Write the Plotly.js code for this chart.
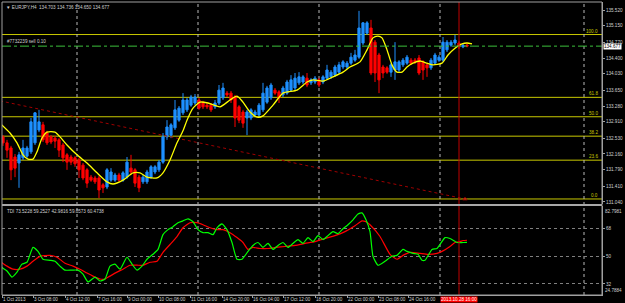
<!DOCTYPE html>
<html><head><meta charset="utf-8">
<script src="https://cdn.plot.ly/plotly-3.0.1.min.js"></script>
<style>html,body{margin:0;padding:0;background:#000;}#chart{width:625px;height:303px;}</style>
</head><body><div id="chart"></div>
<script>
// ---- EURJPY H4 candles (bar index = position) ----
const openP=[132.56,132.42,132.30,132.09,131.95,132.07,132.11,132.21,132.42,132.72,
132.84,132.65,132.56,132.53,132.49,132.37,132.14,132.09,132.07,132.02,
131.90,131.79,131.62,131.60,131.60,131.44,131.39,131.55,131.55,131.67,
131.55,131.62,131.83,131.79,131.62,131.51,131.51,131.62,131.74,131.79,
131.97,132.56,132.60,132.77,132.95,133.12,133.19,133.30,133.35,133.42,
133.35,133.30,133.30,133.26,133.35,133.47,133.58,133.58,133.49,133.26,
133.14,133.00,133.00,133.07,133.07,133.19,133.37,133.47,133.65,133.61,
133.54,133.58,133.65,133.70,133.82,133.84,133.93,133.82,133.84,133.89,
133.84,133.93,133.96,134.00,134.07,134.19,134.19,134.28,134.35,134.42,
134.75,134.98,135.10,134.77,134.47,134.19,134.17,134.07,134.12,134.12,
134.24,134.28,134.35,134.35,134.40,134.31,134.24,134.17,134.28,134.35,
134.35,134.59,134.70,134.75,134.75,134.66,134.703];
const highP=[132.60,132.49,132.35,132.16,132.21,132.49,132.35,133.00,133.14,133.19,
132.91,132.70,132.60,132.58,132.53,132.42,132.18,132.14,132.11,132.07,
131.95,131.83,131.67,131.65,131.65,131.48,131.83,131.83,131.72,131.72,
131.76,132.09,132.14,131.83,131.67,131.67,131.79,131.90,131.90,132.02,
132.65,132.95,132.88,133.42,133.28,133.58,133.47,133.54,133.56,133.47,
133.40,133.35,133.35,133.42,133.77,133.82,133.63,133.63,133.54,133.30,
133.19,133.19,133.23,133.19,133.35,133.82,133.75,133.82,133.70,133.65,
133.75,133.89,134.00,134.05,134.07,134.00,134.05,133.93,133.98,133.93,
134.00,134.24,134.12,134.24,134.31,134.35,134.33,134.52,134.59,135.50,
135.24,135.26,135.29,134.82,134.52,134.24,134.21,134.28,134.77,134.35,
134.40,134.47,134.40,134.40,134.47,134.35,134.28,134.40,134.52,134.47,
134.89,134.82,134.82,134.94,134.80,134.75,134.736];
const lowP=[132.35,132.07,131.55,131.62,131.37,132.02,132.07,132.16,132.37,132.67,
132.44,132.37,132.39,132.30,132.09,131.97,131.79,131.90,131.86,131.60,
131.55,131.37,131.51,131.46,131.13,131.25,131.34,131.51,131.51,131.51,
131.51,131.58,131.69,131.39,131.27,131.46,131.46,131.58,131.69,131.74,
131.93,132.49,132.53,132.72,132.91,133.07,133.14,133.26,133.30,133.19,
133.21,133.21,133.14,133.21,133.30,133.42,133.49,133.35,132.79,132.88,
132.77,132.60,132.95,133.02,133.02,133.14,133.33,133.42,133.54,133.35,
133.49,133.54,133.61,133.65,133.77,133.79,133.72,133.77,133.79,133.72,
133.79,133.89,133.91,133.96,134.03,134.14,134.14,134.24,134.31,134.38,
134.70,134.94,134.00,133.84,133.58,133.93,134.03,133.96,133.89,134.07,
134.19,134.24,134.24,134.26,134.00,133.89,133.96,134.12,134.24,134.31,
134.31,134.54,134.66,134.70,134.61,134.63,134.650];
const closeP=[132.42,132.25,131.79,131.83,132.14,132.30,132.30,132.91,133.12,132.91,
132.49,132.42,132.44,132.46,132.25,132.07,131.97,131.97,131.93,131.79,
131.60,131.48,131.55,131.51,131.32,131.37,131.79,131.74,131.67,131.55,
131.72,131.97,131.74,131.48,131.37,131.62,131.74,131.86,131.86,131.97,
132.56,132.79,132.84,133.19,133.23,133.42,133.42,133.49,133.49,133.23,
133.26,133.26,133.19,133.35,133.65,133.70,133.54,133.42,133.00,132.95,
132.88,133.14,133.19,133.14,133.30,133.58,133.70,133.77,133.58,133.47,
133.70,133.84,133.89,133.93,133.96,133.96,133.77,133.89,133.93,133.77,
133.96,134.12,134.07,134.19,134.24,134.31,134.28,134.42,134.47,135.10,
135.22,135.22,134.05,134.05,133.89,134.05,134.07,134.24,134.31,134.31,
134.35,134.42,134.28,134.31,134.05,134.12,134.17,134.35,134.47,134.42,
134.77,134.77,134.77,134.82,134.66,134.70,134.677];

// ---- yellow moving average ----
const maX=[-0.75,1.75,3.5,5,6.25,7.5,8.5,9.75,11,13,14.25,16,18.5,21,23.5,26,27.5,30,32.5,34.25,36,38.5,40,41.75,43.5,45,46,47.5,49.25,51.25,54.25,56.75,58.5,60,61.75,63.5,65,67.5,70,73.5,76,77.5,80,82.5,85,86.75,89.25,91,92.5,93.75,94.75,96,97.25,98.5,99.75,101,102.5,104.25,106,107.5,109.75,111.25,113,114.75,116,117.25];
const maY=[132.88,132.65,132.42,132.14,132.04,132.04,132.21,132.53,132.67,132.67,132.56,132.37,132.14,131.95,131.72,131.51,131.46,131.55,131.72,131.72,131.62,131.60,131.72,132.02,132.42,132.70,132.95,133.23,133.37,133.35,133.26,133.42,133.51,133.37,133.14,133.02,133.05,133.30,133.58,133.65,133.84,133.89,133.86,133.96,134.07,134.19,134.31,134.59,134.87,134.91,134.87,134.59,134.24,134.07,134.07,134.19,134.28,134.33,134.28,134.24,134.28,134.47,134.63,134.73,134.75,134.73];

// ---- TDI lower panel ----
const greenX=[-0.75,1,2.25,3.5,4.75,6,7.5,8.75,10,11.75,13,14.25,15.5,17.25,18.75,20,21.25,23,24.25,25.5,26.75,28,29.25,31,32.25,33.5,34.75,36,37.5,38.75,40,41.25,42.5,43.75,45,46.25,47.5,48.75,50,51.25,52.5,53.5,54.75,56,57.25,58.5,59.75,61.25,62.5,63.75,65,66.25,67.5,68.75,70,71.25,72.5,73.75,75,76.25,77.5,78.75,80,81.25,82.5,83.75,85,86.25,87.5,88.75,89.75,90.75,91.75,92.5,93.75,95.5,97.25,98.5,100,101,102.5,103.75,104.75,105.5,107.25,108.5,109.25,110.5,111.75,113.5,115,116];
const greenY=[43.6,40.4,36.5,39.7,44.9,46.1,55.8,53.2,48.1,47.4,46.8,43.6,41.0,41.0,41.0,38.4,33.3,36.5,33.9,35.2,43.6,44.9,41.6,49.4,44.9,41.0,43.6,48.1,51.3,54.5,64.1,67.4,69.3,71.9,73.1,74.4,72.5,67.4,65.4,65.4,64.1,68.6,71.2,67.4,59.0,48.1,48.1,53.2,57.1,59.0,55.8,58.4,54.5,57.1,59.0,55.8,58.4,60.9,58.4,62.2,59.6,63.5,60.9,63.5,66.1,64.8,68.0,70.6,73.8,77.6,78.3,73.8,66.1,50.0,44.2,46.8,50.0,50.6,54.5,53.2,51.9,51.3,47.4,47.4,54.5,55.1,57.7,62.2,61.6,59.0,59.0,59.06];
const redX=[-0.75,1,2.5,4.25,6,7.5,9.25,11.75,13.5,15.5,17.5,19.25,21,22.5,24.25,25.5,26.75,28.5,30,31.75,33.5,35,36.75,38.5,40,41.75,43.5,45,46.75,48.5,50,51.75,53.5,55,56.75,58.5,60,61.25,62.5,64.25,66.25,68.25,70.5,73,75.5,78,80.5,83,85.5,88,89.75,90.75,91.75,94.25,96.75,98.5,100,101.75,104.25,106.25,108.5,109.75,111.75,113,114.25,115,116];
const redY=[46.8,43.6,41.6,41.6,43.6,46.8,50.0,50.6,49.4,45.5,43.6,41.6,39.1,37.1,35.2,35.2,37.1,39.7,41.6,44.2,44.2,44.2,46.1,46.8,52.6,57.7,62.9,68.6,71.9,71.9,70.6,68.6,67.4,67.4,65.4,62.2,59.0,54.5,55.8,55.1,55.1,55.8,56.4,57.1,58.4,59.6,61.6,63.5,66.1,69.9,73.1,72.5,70.6,62.9,51.3,48.1,50.6,52.6,51.9,51.3,51.9,53.2,56.4,59.0,59.6,60.3,60.47];
const tdiValues=[73.5228,59.2527,42.9816,59.0573,60.4738];
const tdiLevels=[68,50,32];
const tdiRange=[24.7884,82.7981];

// ---- objects / axes ----
const fibLevels=[100,61.8,50,38.2,23.6,0];
const fibHigh=134.948, fibLow=131.110;
const orderPrice=134.677, orderLabel='#7732239 sell 0.10';
const trendX=[-0.75,115.5], trendY=[133.40,131.11];
const separatorBars=[18.5,48.75,79,109.25,145.25];
const redLineBar=114, redLineLabel='2013.10.28 16:00';
const priceTicks=[135.520,135.150,134.770,134.400,134.030,133.650,133.280,132.910,132.530,132.160,131.790,131.410,131.040];
const priceRange=[130.993,135.707];
const timeTickBars=[-0.25,7.5,15.5,23.5,31,38.75,46.75,54.75,62.25,70,78,86,93.75,101.25];
const timeLabels=['1 Oct 2013','3 Oct 08:00','4 Oct 12:00','7 Oct 16:00','9 Oct 00:00','10 Oct 08:00','11 Oct 16:00','14 Oct 20:00','16 Oct 04:00','17 Oct 12:00','18 Oct 20:00','22 Oct 00:00','23 Oct 08:00','24 Oct 16:00'];
const symbol='EURJPY,H4';

const bars=openP.map((_,i)=>i);
const last=openP.length-1;
const FONT='Liberation Sans, Arial, sans-serif';
const TXT='#D0D0D0', AX='#A0A0A0', FIB='#C8C800';
const fs=4.6;

const traces=[
 {type:'candlestick',x:bars,open:openP,high:highP,low:lowP,close:closeP,xaxis:'x',yaxis:'y',
  increasing:{line:{color:'#1E90FF',width:1},fillcolor:'#1E90FF'},
  decreasing:{line:{color:'#FF0000',width:1},fillcolor:'#FF0000'},
  whiskerwidth:0,hoverinfo:'skip'},
 {type:'scatter',mode:'lines+markers',x:trendX,y:trendY,xaxis:'x',yaxis:'y',
  line:{color:'#A00000',width:1,dash:'dot'},marker:{size:[0,4],color:'#FF2020',symbol:'triangle-up'},hoverinfo:'skip'},
 {type:'scatter',mode:'lines',x:maX,y:maY,xaxis:'x',yaxis:'y',
  line:{color:'#FFFF00',width:1.3,shape:'spline',smoothing:0.6},hoverinfo:'skip'},
 {type:'scatter',mode:'lines',x:redX,y:redY,xaxis:'x',yaxis:'y2',
  line:{color:'#FF0000',width:1.2,shape:'spline',smoothing:0.5},hoverinfo:'skip'},
 {type:'scatter',mode:'lines',x:greenX,y:greenY,xaxis:'x',yaxis:'y2',
  line:{color:'#00FF00',width:1.2,shape:'spline',smoothing:0.5},hoverinfo:'skip'}
];

const shapes=[];
fibLevels.forEach(l=>{
  const p=fibLow+(fibHigh-fibLow)*l/100;
  shapes.push({type:'line',xref:'paper',x0:0,x1:1,yref:'y',y0:p,y1:p,line:{color:FIB,width:1},layer:'below'});
});
shapes.push({type:'line',xref:'paper',x0:0,x1:1,yref:'y',y0:orderPrice,y1:orderPrice,line:{color:'#3CC03C',width:1,dash:'dashdot'}});
separatorBars.forEach(b=>{
  shapes.push({type:'line',xref:'x',x0:b,x1:b,yref:'paper',y0:0,y1:1,line:{color:'#B8B8B8',width:1,dash:'dot'},layer:'below'});
});
shapes.push({type:'line',xref:'x',x0:redLineBar,x1:redLineBar,yref:'paper',y0:0,y1:1,line:{color:'#C00000',width:1}});
shapes.push({type:'rect',xref:'paper',x0:0,x1:1,yref:'paper',y0:0.3038,y1:0.3106,fillcolor:'#A8A8A8',line:{width:0}});
shapes.push({type:'rect',xref:'paper',x0:0,x1:1,yref:'paper',y0:0,y1:1,line:{color:AX,width:1}});

const annotations=[];
const f3=v=>v.toFixed(3);
annotations.push({xref:'paper',yref:'paper',x:0,y:1,xanchor:'left',yanchor:'top',xshift:2,yshift:-1,showarrow:false,
  text:'▼ '+symbol+'  '+[openP[last],highP[last],lowP[last],closeP[last]].map(f3).join(' '),font:{family:FONT,size:fs,color:TXT}});
annotations.push({xref:'paper',yref:'y',x:0,y:orderPrice,xanchor:'left',yanchor:'bottom',xshift:3,yshift:0,showarrow:false,
  text:orderLabel,font:{family:FONT,size:fs,color:TXT}});
annotations.push({xref:'paper',yref:'y',x:1,y:closeP[last],xanchor:'left',yanchor:'middle',xshift:1,showarrow:false,
  text:f3(closeP[last]),bgcolor:'#FFFFFF',borderpad:0,font:{family:FONT,size:fs,color:'#000000'}});
fibLevels.forEach(l=>{
  const p=fibLow+(fibHigh-fibLow)*l/100;
  annotations.push({xref:'paper',yref:'y',x:1,y:p,xanchor:'right',yanchor:'bottom',xshift:-2,yshift:-1,showarrow:false,
    text:l.toFixed(1),font:{family:FONT,size:fs,color:FIB}});
});
annotations.push({xref:'paper',yref:'y2',x:0,y:tdiRange[1],xanchor:'left',yanchor:'top',xshift:3,yshift:-1,showarrow:false,
  text:'TDI '+tdiValues.map(v=>v.toFixed(4)).join(' '),font:{family:FONT,size:fs,color:TXT}});
annotations.push({xref:'paper',yref:'y2',x:1,y:tdiRange[1],xanchor:'left',yanchor:'top',xshift:1,yshift:-1,showarrow:false,
  text:tdiRange[1].toFixed(4),font:{family:FONT,size:fs,color:TXT}});
annotations.push({xref:'paper',yref:'y2',x:1,y:tdiRange[0],xanchor:'left',yanchor:'bottom',xshift:1,showarrow:false,
  text:tdiRange[0].toFixed(4),font:{family:FONT,size:fs,color:TXT}});
annotations.push({xref:'x',yref:'paper',x:redLineBar,y:0,xanchor:'center',yanchor:'top',yshift:-1,showarrow:false,
  text:redLineLabel,bgcolor:'#FF0000',borderpad:0,font:{family:FONT,size:fs,color:'#FFFFFF'}});

const layout={
  width:625,height:303,margin:{l:2,r:23,t:2,b:8,pad:0},
  paper_bgcolor:'#000000',plot_bgcolor:'#000000',showlegend:false,
  boxgap:0.45,boxgroupgap:0,
  xaxis:{anchor:'y2',range:[-0.25,149.75],showgrid:false,zeroline:false,
    tickmode:'array',tickvals:timeTickBars,ticktext:timeLabels,ticklabelposition:'outside right',
    tickangle:0,ticklabelstandoff:-1,ticklabeloverflow:'allow',
    ticks:'outside',ticklen:2,tickcolor:AX,tickfont:{family:FONT,size:fs,color:TXT},
    showline:true,linecolor:AX,rangeslider:{visible:false},fixedrange:true},
  yaxis:{domain:[0.3106,1],range:priceRange,side:'right',showgrid:false,zeroline:false,
    tickmode:'array',tickvals:priceTicks,ticktext:priceTicks.map(f3),
    ticks:'outside',ticklen:2,tickcolor:AX,tickfont:{family:FONT,size:fs,color:TXT},
    showline:true,linecolor:AX,fixedrange:true},
  yaxis2:{domain:[0,0.3038],range:tdiRange,side:'right',zeroline:false,
    showgrid:true,gridcolor:'#808080',griddash:'dot',gridwidth:1,
    tickmode:'array',tickvals:tdiLevels,ticktext:tdiLevels.map(String),
    ticks:'outside',ticklen:2,tickcolor:AX,tickfont:{family:FONT,size:fs,color:TXT},
    showline:true,linecolor:AX,fixedrange:true},
  shapes:shapes,annotations:annotations
};
Plotly.newPlot('chart',traces,layout,{staticPlot:true,displayModeBar:false});
</script></body></html>
